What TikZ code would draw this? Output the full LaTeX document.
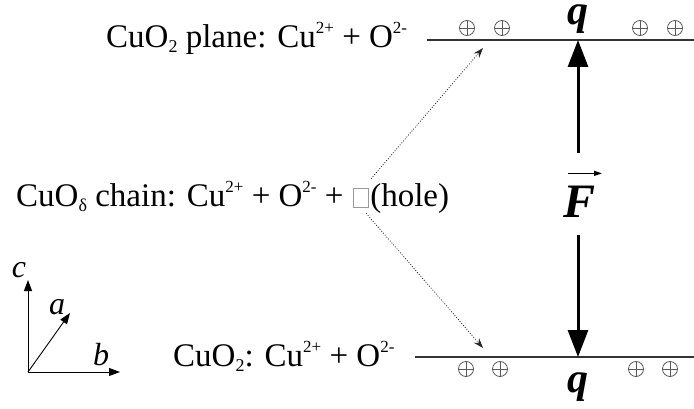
\documentclass[tikz,border=0pt]{standalone}
\usepackage{fontspec}
\setmainfont{Liberation Serif}
\usetikzlibrary{arrows.meta}
\newcommand\spx[1]{\raisebox{14pt}{\fontsize{17}{17}\selectfont #1}}
\newcommand\sbx[1]{\raisebox{-5pt}{\fontsize{18}{18}\selectfont #1}}
\begin{document}
\begin{tikzpicture}[x=1pt,y=-1pt,
  lbl/.style={anchor=base west,inner sep=0pt,font=\fontsize{33}{38}\selectfont},
  plane/.style={line width=1.8pt,black!80},
  force/.style={line width=3pt,-{Triangle[length=27pt,width=20pt]}},
  dotarr/.style={line width=0.8pt,black!85,dash pattern=on 0.9pt off 1.7pt,-{Stealth[length=10pt,width=7pt]}},
  axis/.style={line width=0.9pt,-{Triangle[length=11pt,width=8pt]}},
  axl/.style={font=\fontsize{32}{34}\selectfont\itshape,inner sep=0pt},
  chg/.style={circle,draw=black!65,line width=0.8pt,minimum size=15pt,inner sep=0pt,
    path picture={\draw[black!65,line width=0.8pt]
      (path picture bounding box.north) -- (path picture bounding box.south)
      (path picture bounding box.west) -- (path picture bounding box.east);}},
  qlbl/.style={font=\fontsize{42}{46}\selectfont\bfseries\itshape,inner sep=0pt,anchor=base}
]
\useasboundingbox (0,0) rectangle (694,409);

% planes
\coordinate (tl) at (427,40);
\coordinate (tr) at (694,40);
\coordinate (bl) at (415,357);
\coordinate (br) at (694,357);
\draw[plane] (tl) -- (tr);
\draw[plane] (bl) -- (br);

% charges
\node[chg] (t1) at (467,28) {};
\node[chg] (t2) at (502,28) {};
\node[chg] (t3) at (640,28) {};
\node[chg] (t4) at (675,28) {};
\node[chg] (b1) at (466,369) {};
\node[chg] (b2) at (500,369) {};
\node[chg] (b3) at (636,369) {};
\node[chg] (b4) at (670,369) {};

% labels
\node[lbl] (top) at (106,48) {CuO\sbx{2} plane: Cu\spx{2+} + O\spx{2-}};
\node[lbl] (chainA) at (16,207) {CuO\sbx{δ} chain: Cu\spx{2+} + O\spx{2-} +};
\node[lbl,anchor=base west] (hole) at ([xshift=9pt]chainA.base east)
  {{\color{black!40}\fboxsep=0pt\fboxrule=1pt\fbox{\phantom{\rule{14pt}{18pt}}}}};
\node[lbl,anchor=base west] (holetxt) at ([xshift=1pt]hole.base east) {(hole)};
\node[lbl] (bot) at (173,366) {CuO\sbx{2}: Cu\spx{2+} + O\spx{2-}};

% q and F
\node[qlbl] (qt) at (578,25) {q};
\node[qlbl] (qb) at (578,392) {q};
\node[font=\fontsize{48}{52}\selectfont\bfseries\itshape,inner sep=0pt,anchor=base] (F) at (580,218) {F};
\draw[line width=1.3pt,-{Triangle[length=8pt,width=5pt]}]
  ([shift={(-12,-13)}]F.north) -- ([shift={(22,-13)}]F.north);

% force arrows
\coordinate (fu) at (578,153);
\coordinate (fd) at (578,235);
\coordinate (ut) at (578,40);
\coordinate (dt) at (578,357);
\draw[force] (fu) -- (ut);
\draw[force] (fd) -- (dt);

% dotted arrows
\coordinate (dtop) at (483,48);
\coordinate (dbot) at (483,348);
\draw[dotarr] ([shift={(2,-9)}]hole.north east) -- (dtop);
\draw[dotarr] ([shift={(-3,5)}]hole.south east) -- (dbot);

% axes
\coordinate (o) at (28,372);
\coordinate (ac) at (28,280);
\coordinate (ab) at (120,372);
\coordinate (aa) at (70,313);
\draw[axis] (o) -- (ac);
\draw[axis] (o) -- (ab);
\draw[axis] (o) -- (aa);
\node[axl] (lc) at (19,270) {c};
\node[axl] (la) at (57,307) {a};
\node[axl] (lb) at (101,355) {b};
\end{tikzpicture}
\end{document}
